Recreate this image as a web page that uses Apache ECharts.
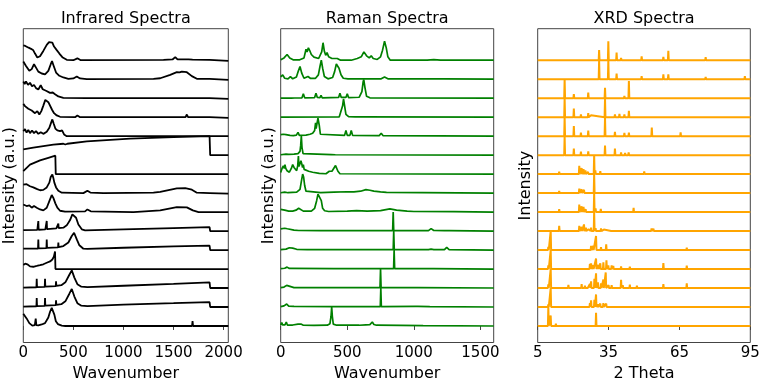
<!DOCTYPE html>
<html><head><meta charset="utf-8">
<script src="https://cdn.jsdelivr.net/npm/echarts@6/dist/echarts.min.js"></script>
<style>html,body{margin:0;padding:0;background:#fff}#c{width:767px;height:383px}</style>
</head><body><div id="c"></div>
<script>
// ---------- Tick labels ----------
const irTicks = [0, 500, 1000, 1500, 2000];
const ramanTicks = [0, 500, 1000, 1500];
const xrdTicks = [5, 35, 65, 95];

// ---------- Infrared spectra (top to bottom), [wavenumber, normalized intensity] ----------
const ir01 = [[0,.78],[20,.75],[37,.82],[53,.66],[77,.60],[100,.52],[117,.35],[140,.14],[167,.21],[200,.49],[234,.81],[257,.95],[274,.86],[290,.93],[307,.72],[334,.53],[360,.35],[394,.14],[434,.02],[500,0],[540,.1],[574,0],[1400,.02],[1490,.04],[1517,.16],[1540,.04],[1650,.04],[1667,.12],[1690,.03],[1860,.02],[1870,-.04],[2047,-.04]];
const ir02 = [[0,.93],[27,.70],[60,.44],[84,.53],[107,.79],[127,.61],[150,.40],[184,.30],[217,.26],[250,.44],[274,.79],[287,.95],[300,.75],[327,.35],[360,.18],[400,.09],[450,.02],[500,.04],[534,.14],[567,.04],[634,0],[1300,.02],[1367,.05],[1467,.23],[1533,.37],[1560,.36],[1583,.40],[1633,.37],[1683,.16],[1733,.02],[1860,.02],[1873,-.04],[2047,-.04]];
const ir03 = [[0,.88],[14,.74],[27,.88],[47,.70],[67,.81],[87,.63],[107,.70],[127,.53],[150,.46],[174,.68],[194,.47],[227,.39],[267,.28],[294,.30],[317,.21],[350,.09],[400,.02],[634,0],[1860,0],[1870,-.04],[2047,-.04]];
const ir04 = [[0,.70],[17,.58],[33,.63],[50,.44],[67,.53],[84,.35],[100,.40],[117,.21],[140,.32],[160,.14],[180,.32],[200,.61],[220,.91],[234,.96],[250,.79],[267,.70],[287,.39],[307,.21],[334,.09],[367,.02],[517,0],[540,.09],[567,0],[1620,0],[1633,.14],[1645,0],[1860,0],[1870,-.04],[2047,-.04]];
const ir05 = [[0,.26],[17,.37],[33,.19],[50,.33],[67,.16],[87,.30],[107,.16],[127,.26],[150,.12],[174,.21],[200,.12],[234,.23],[260,.44],[277,.70],[290,.88],[304,.65],[320,.40],[340,.30],[367,.26],[387,.30],[407,.09],[434,0],[2047,0]];
const ir06 = [[0,.30],[100,.40],[200,.48],[300,.55],[400,.60],[420,.56],[440,.60],[634,.72],[1067,.87],[1500,.95],[1860,1.0],[1866,0],[2047,0]];
const ir07 = [[0,.16],[67,.50],[167,.72],[250,.86],[320,.97],[324,0],[2047,0]];
const ir08 = [[0,.45],[17,.40],[33,.47],[50,.40],[67,.36],[100,.30],[133,.22],[167,.15],[200,.17],[234,.30],[260,.55],[274,.85],[290,.98],[300,.80],[310,.55],[327,.30],[350,.12],[384,.02],[600,0],[640,.12],[670,.03],[800,0],[1300,.02],[1367,.07],[1533,.25],[1617,.26],[1683,.18],[1733,.02],[1860,0],[1870,-.03],[2047,-.03]];
const ir09 = [[0,.40],[33,.32],[60,.35],[84,.23],[107,.32],[134,.23],[167,.14],[200,.09],[234,.23],[260,.58],[284,.90],[300,.75],[320,.46],[340,.23],[367,.07],[417,.02],[617,.04],[640,.14],[674,.04],[1100,0],[1367,.09],[1533,.26],[1633,.25],[1693,.09],[1750,0],[2047,0]];
const ir10 = [[0,.05],[140,.06],[148,.06],[150,.53],[153,.07],[220,.09],[231,.09],[234,.53],[237,.10],[330,.14],[347,.15],[350,.39],[353,.16],[400,.18],[434,.30],[467,.58],[490,.88],[507,.96],[527,.70],[550,.35],[584,.09],[617,.04],[1000,.09],[1500,.16],[1860,.21],[1866,0],[2047,0]];
const ir11 = [[0,.07],[147,.08],[150,.56],[153,.09],[231,.10],[234,.56],[237,.11],[347,.14],[350,.39],[353,.15],[400,.21],[450,.40],[484,.74],[507,.91],[534,.56],[560,.25],[600,.07],[640,.06],[1000,.12],[1500,.19],[1860,.23],[1866,0],[2047,0]];
const ir12 = [[0,.22],[20,.28],[40,.25],[67,.14],[100,.12],[134,.16],[167,.20],[200,.25],[234,.33],[267,.40],[290,.50],[305,.65],[317,.92],[321,0],[2047,0]];
const ir13 = [[0,.02],[131,.04],[134,.49],[137,.05],[214,.06],[217,.49],[220,.07],[324,.10],[327,.35],[330,.11],[380,.15],[420,.30],[460,.70],[484,.93],[510,.55],[540,.20],[580,.07],[640,.05],[1000,.12],[1500,.22],[1860,.30],[1866,0],[2047,0]];
const ir14 = [[0,.02],[131,.04],[134,.47],[137,.05],[214,.06],[217,.47],[220,.07],[324,.10],[327,.35],[330,.11],[380,.15],[420,.30],[460,.70],[484,.95],[510,.55],[540,.20],[580,.07],[640,.05],[1000,.12],[1500,.20],[1860,.26],[1866,0],[2047,0]];
const ir15 = [[0,.65],[17,.55],[33,.40],[60,.15],[90,.02],[115,.05],[124,.39],[130,.05],[150,.03],[184,.08],[217,.15],[250,.45],[267,.75],[284,.95],[300,.93],[310,.60],[325,.25],[345,.10],[384,.02],[420,0],[1685,0],[1690,.26],[1695,0],[2047,0]];

// ---------- Raman spectra (top to bottom) ----------
const ra01 = [[0,.02],[25,.12],[48,.30],[68,.12],[93,.02],[143,.02],[175,.12],[190,.58],[198,.44],[208,.65],[218,.51],[230,.30],[250,.16],[285,.09],[308,.44],[318,.92],[328,.47],[338,.26],[348,.40],[360,.18],[385,.09],[425,.09],[450,0],[530,0],[575,.09],[605,.18],[625,.44],[645,.23],[665,.12],[680,.23],[695,.09],[725,.04],[750,.18],[765,.53],[780,1.0],[793,.65],[805,.18],[823,0],[1100,0],[1150,.03],[1200,0],[1600,0]];
const ra02 = [[0,.12],[15,.23],[30,.05],[55,.02],[73,.14],[90,.02],[118,.12],[133,.44],[145,.67],[158,.32],[175,.05],[205,.14],[225,.04],[260,.04],[283,.23],[295,.67],[305,1.0],[315,.58],[328,.14],[355,.02],[390,.09],[405,.40],[418,.80],[425,.85],[438,.58],[453,.23],[470,.05],[505,.02],[755,.02],[780,.11],[805,.02],[1220,.02],[1225,0],[1600,0]];
const ra03 = [[0,0],[80,0],[95,.09],[105,.01],[160,.02],[170,.23],[180,.02],[255,.03],[265,.26],[275,.04],[295,.03],[303,.15],[312,.02],[435,.04],[445,.26],[455,.04],[490,.04],[500,.23],[510,.03],[590,.05],[610,.35],[619,.85],[624,.98],[632,.6],[645,.1],[670,.02],[1600,0]];
const ra04 = [[0,0],[440,.02],[455,.12],[465,.6],[472,.96],[480,.6],[490,.15],[510,.03],[560,.02],[570,.12],[580,.02],[1600,0]];
const ra05 = [[0,.08],[12,.18],[20,.10],[30,.18],[40,.08],[55,.18],[70,.04],[95,.03],[118,.05],[130,.20],[140,.04],[190,.05],[220,.10],[240,.15],[255,.30],[262,.70],[266,.40],[272,.45],[280,.95],[285,1.0],[290,.55],[298,.10],[310,.04],[480,.04],[490,.30],[500,.04],[520,.04],[530,.30],[540,.04],[740,.03],[755,.15],[768,.03],[1600,0]];
const ra06 = [[0,.02],[40,.05],[50,.09],[60,.04],[100,.05],[110,.10],[130,.08],[145,.20],[150,.5],[155,1.0],[160,.4],[168,.08],[180,.03],[380,.03],[395,.08],[410,.02],[1600,0]];
const ra07 = [[0,.09],[10,.30],[20,.44],[27,.30],[32,.50],[38,.30],[48,.18],[58,.26],[65,.10],[80,.30],[90,.50],[100,.35],[110,.25],[120,.18],[128,.45],[133,.95],[137,.40],[145,.55],[152,.70],[158,.55],[164,.35],[170,.50],[176,.25],[190,.20],[210,.15],[240,.10],[290,.04],[340,.02],[365,.15],[375,.20],[385,.15],[395,.25],[412,.45],[420,.40],[430,.15],[445,.02],[1600,0]];
const ra08 = [[0,.02],[30,.05],[40,.08],[55,.02],[120,.05],[145,.20],[155,.60],[165,1.0],[172,.85],[180,.40],[190,.10],[205,.03],[300,.03],[400,.05],[500,.07],[550,.06],[600,.10],[640,.18],[670,.15],[700,.10],[750,.06],[795,.04],[800,0],[1600,0]];
const ra09 = [[0,.14],[15,.16],[30,.10],[45,.12],[60,.05],[90,.05],[115,.10],[135,.20],[150,.12],[170,.05],[230,.05],[255,.20],[270,.60],[280,.95],[295,.95],[305,.60],[315,.20],[330,.07],[360,.03],[500,.05],[570,.08],[650,.05],[750,.08],[820,.17],[870,.10],[950,.05],[1000,.03],[1300,.02],[1310,0],[1600,0]];
const ra10 = [[0,.12],[15,.20],[30,.15],[50,.12],[65,.05],[100,.05],[115,.10],[135,.03],[300,.02],[841,.02],[845,1.0],[849,.02],[1110,.02],[1130,.13],[1150,.03],[1230,.02],[1245,.08],[1265,.02],[1600,0]];
const ra11 = [[0,.02],[40,.05],[65,.12],[90,.10],[120,.04],[200,.02],[845,.02],[849,1.0],[853,.02],[1110,.02],[1130,.05],[1150,.02],[1230,.02],[1247,.14],[1265,.02],[1600,0]];
const ra12 = [[0,.02],[30,.04],[48,.10],[65,.03],[400,.02],[848,.02],[852,1.0],[856,.02],[1120,.02],[1133,.06],[1145,.02],[1600,0]];
const ra13 = [[0,.02],[25,.05],[45,.14],[60,.04],[100,.02],[575,.02],[580,.10],[585,.02],[746,.02],[750,1.0],[754,.02],[1010,.02],[1020,.07],[1030,.02],[1600,0]];
const ra14 = [[0,.02],[25,.06],[45,.16],[60,.05],[100,.03],[400,.02],[748,.02],[752,1.0],[756,.02],[1010,.03],[1020,.08],[1030,.03],[1120,.02],[1130,0],[1600,0]];
const ra15 = [[0,.05],[8,.18],[14,.06],[22,.10],[32,.06],[42,.21],[50,.05],[90,.05],[130,.10],[142,.16],[152,.10],[170,.04],[250,.03],[350,.04],[370,.12],[378,.50],[383,1.0],[388,.50],[395,.10],[420,.04],[570,.04],[580,.10],[590,.04],[640,.06],[655,.12],[670,.07],[688,.21],[700,.08],[720,.04],[900,.03],[1070,.02],[1080,0],[1600,0]];

// ---------- XRD patterns (top to bottom), peaks as [2theta, normalized intensity] ----------
const xr01 = [[12,.03],[17,.04],[22,.05],[26,.03],[31.0,.54],[34.9,1.0],[36.6,.10],[38.4,.40],[40.3,.12],[42,.05],[43.4,.10],[46,.04],[49.0,.20],[52,.04],[56,.05],[58.2,.18],[60.3,.50],[62,.04],[65.2,.09],[70,.05],[72,.05],[76.1,.16],[80,.04],[86,.04],[92,.04]];
const xr02 = [[22,.03],[31.0,1.0],[34.9,1.0],[36.6,.05],[38.4,.30],[40.3,.09],[43.4,.08],[49.0,.16],[56,.04],[58.2,.26],[60.3,.26],[65,.04],[70,.04],[76.1,.12],[80,.04],[92.7,.16]];
const xr03 = [[16.4,1.0],[20.3,.22],[23.3,.09],[26.4,.30],[33.5,.55],[37.7,.07],[40.0,.05],[41.7,.12],[43.6,.90],[50,.04],[55,.04],[61,.03],[70,.03]];
const xr04 = [[16.4,1.0],[20.3,.46],[23.3,.14],[26.4,.22],[27.6,.10],[33.5,1.0],[37.7,.14],[39.6,.17],[41.7,.15],[43.6,.33],[48.3,.07],[57,.04],[66,.10],[71,.05],[81,.05]];
const xr05 = [[16.4,1.0],[20.3,.53],[23.3,.18],[26.4,.30],[33.5,1.0],[37.7,.22],[39.6,.10],[41.7,.17],[43.6,.18],[53.3,.45],[60,.08],[62.5,.06],[65.5,.20],[70,.04]];
const xr06 = [[16.4,1.0],[20.3,.35],[23.3,.18],[26.4,.20],[33.5,.50],[37.7,.35],[40.3,.14],[42,.12],[43.5,.14],[48.5,.06],[54,.05],[60,.07],[63,.07],[65.5,.06],[71,.06],[78,.05],[84,.05]];
const xr07 = [[14.1,.13],[22.6,.44],[23.6,.32],[24.4,.26],[25.2,.20],[26.3,.12],[28.9,1.0],[29.4,.20],[31.5,.15],[32.5,.10],[35,.06],[38,.06],[45,.05],[50.1,.14],[51.5,.10],[54,.06],[60,.04],[73,.05],[80,.04]];
const xr08 = [[14.1,.12],[22.6,.24],[23.6,.20],[24.6,.17],[25.1,.10],[28.9,1.0],[31.8,.09],[35,.03],[53.5,.07],[60,.03]];
const xr09 = [[14.1,.15],[22.6,.40],[23.6,.30],[24.4,.28],[25.3,.15],[26.2,.08],[28.9,1.0],[29.5,.20],[31.7,.17],[33,.07],[38,.04],[45.6,.22],[50,.04],[53.3,.06],[55,.05],[62,.03],[68.8,.06]];
const xr10 = [[7,.04],[9.5,.05],[14.1,.27],[20,.05],[22.6,.27],[23.6,.22],[24.6,.35],[25.4,.18],[26.5,.10],[27.6,.18],[28.9,1.0],[29.5,.15],[31.8,.14],[33,.08],[36.3,.08],[40,.05],[44,.05],[48,.05],[53.2,.14],[54,.12],[57,.05],[61,.06],[66,.04],[72,.04],[80,.04],[90,.04]];
const xr11 = [[9.5,.17],[10.5,1.0],[13,.04],[17,.04],[20,.05],[22,.05],[25,.06],[27.6,.22],[28.5,.22],[29.7,.74],[30.5,.10],[31.8,.15],[34.0,.30],[36.3,.10],[40.3,.10],[44,.07],[47,.07],[53,.05],[58,.04],[62,.04],[68.1,.13],[73,.05],[80,.04],[88,.04]];
const xr12 = [[9.5,.20],[10.5,1.0],[15,.05],[18,.06],[20.5,.07],[22,.06],[24,.06],[27.1,.28],[27.6,.30],[28.5,.20],[29.7,.55],[30.7,.22],[31.5,.30],[32.8,.35],[34.1,.46],[34.9,.20],[36.3,.20],[37,.16],[40.3,.14],[44,.12],[47,.10],[52,.06],[55,.06],[58.2,.32],[62,.06],[68.1,.18],[75,.05],[82,.04]];
const xr13 = [[9.5,.19],[10.5,1.0],[16,.05],[18,.16],[19,.10],[20.5,.10],[22.2,.10],[23.6,.20],[25,.12],[26,.10],[27.1,.22],[27.6,.35],[29.0,.48],[29.7,.77],[30.5,.30],[31.8,.25],[32.8,.45],[33.8,.82],[35,.15],[36.3,.15],[37,.10],[40.3,.43],[41,.15],[42.5,.08],[44,.18],[47,.12],[50,.06],[52,.07],[55,.06],[58.2,.20],[61,.06],[68.1,.25],[72.3,.08],[76.5,.09],[82,.04]];
const xr14 = [[9.5,.14],[10.5,1.0],[12,.06],[16,.06],[18,.07],[20,.07],[22,.07],[23.6,.10],[25,.07],[27.1,.20],[27.6,.35],[29.0,.38],[29.7,.66],[30.5,.15],[31.5,.18],[32.8,.20],[34.0,.18],[36.3,.10],[38,.06],[40.3,.08],[44,.08],[47,.06],[53,.05],[58.2,.06],[62,.05],[68.1,.09],[72,.04],[77,.04]];
const xr15 = [[6.5,.05],[9.5,1.0],[10.5,.55],[12.7,.12],[17,.03],[19.4,.06],[21.5,.05],[25.7,.05],[27.5,.04],[28.5,.05],[29.7,.70],[31,.04],[32.8,.06],[34.2,.06],[36,.04],[40,.03],[46,.03],[55,.03],[68.1,.07],[78,.03]];

const irTraces = [ir01,ir02,ir03,ir04,ir05,ir06,ir07,ir08,ir09,ir10,ir11,ir12,ir13,ir14,ir15];
const ramanTraces = [ra01,ra02,ra03,ra04,ra05,ra06,ra07,ra08,ra09,ra10,ra11,ra12,ra13,ra14,ra15];
const xrdPeakLists = [xr01,xr02,xr03,xr04,xr05,xr06,xr07,xr08,xr09,xr10,xr11,xr12,xr13,xr14,xr15];

// ---------- build ----------
function sticks(peaks) {
  const s = peaks.slice().sort((a, b) => a[0] - b[0]);
  const pts = [[5, 0]];
  s.forEach(([x, h]) => { pts.push([x - 0.18, 0], [x, h], [x + 0.18, 0]); });
  pts.push([95, 0]);
  return pts;
}
function stack(traces, idx, color, width) {
  const n = traces.length;
  return traces.map((t, i) => ({
    type: 'line', xAxisIndex: idx, yAxisIndex: idx,
    data: t.map(p => [p[0], p[1] + (n - 1 - i)]),
    symbol: 'none', showSymbol: false, silent: true, animation: false,
    lineStyle: { color: color, width: width }, z: 2 + i
  }));
}
const FONT = 'DejaVu Sans';
const grids = [
  { left: 23.3, top: 28.7, width: 205, height: 313.8 },
  { left: 280.7, top: 28.7, width: 213, height: 313.8 },
  { left: 537.7, top: 28.7, width: 212.6, height: 313.8 }
].map(g => Object.assign(g, { show: true, borderColor: '#444', borderWidth: 1, backgroundColor: 'transparent', containLabel: false }));

function xAx(idx, min, max, ticks) {
  return {
    type: 'value', gridIndex: idx, min: min, max: max,
    axisLine: { show: false },
    axisTick: { show: true, length: 4, inside: false, customValues: ticks, lineStyle: { color: '#444', width: 1 } },
    axisLabel: { customValues: ticks, margin: 3, color: '#000', fontSize: 15, fontFamily: FONT,
      formatter: v => (ticks.indexOf(v) >= 0 ? String(v) : '') },
    splitLine: { show: false }
  };
}
function yAx(idx) {
  return { type: 'value', gridIndex: idx, min: -0.87, max: 15.66,
    axisLine: { show: false }, axisTick: { show: false }, axisLabel: { show: false }, splitLine: { show: false } };
}
function txt(text, x, y, rot) {
  return { type: 'text', x: x, y: y, rotation: rot || 0, silent: true,
    style: { text: text, x: 0, y: 0, fill: '#000', font: '16px "' + FONT + '"',
      textAlign: 'center', textVerticalAlign: 'middle', align: 'center', verticalAlign: 'middle' } };
}

const chart = echarts.init(document.getElementById('c'), null, { renderer: 'canvas' });
chart.setOption({
  animation: false,
  backgroundColor: '#fff',
  grid: grids,
  xAxis: [xAx(0, 0, 2047, irTicks), xAx(1, 0, 1600, ramanTicks), xAx(2, 5, 95, xrdTicks)],
  yAxis: [yAx(0), yAx(1), yAx(2)],
  graphic: [
    txt('Infrared Spectra', 125.8, 18.5), txt('Raman Spectra', 387.2, 18.5), txt('XRD Spectra', 644, 18.5),
    txt('Wavenumber', 125.8, 373.5), txt('Wavenumber', 387.2, 373.5), txt('2 Theta', 644, 373.5),
    txt('Intensity (a.u.)', 10, 185.6, Math.PI / 2), txt('Intensity (a.u.)', 268.5, 185.6, Math.PI / 2), txt('Intensity', 525.5, 185.6, Math.PI / 2)
  ],
  series: [].concat(
    stack(irTraces, 0, '#000000', 1.8),
    stack(ramanTraces, 1, '#008000', 1.7),
    stack(xrdPeakLists.map(sticks), 2, '#FFA500', 2)
  )
});
</script>
</body></html>
